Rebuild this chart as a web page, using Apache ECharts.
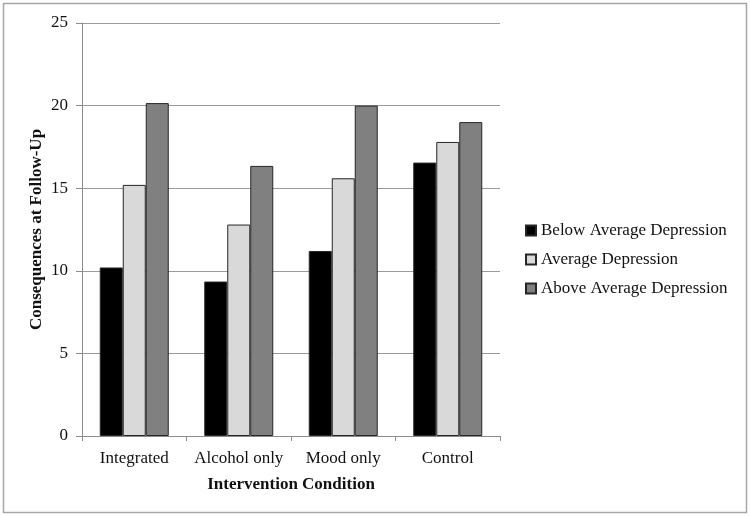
<!DOCTYPE html>
<html>
<head>
<meta charset="utf-8">
<script src="https://cdn.jsdelivr.net/npm/echarts@6/dist/echarts.min.js"></script>
<style>
  html, body { margin: 0; padding: 0; background: #fff; }
  #chart { width: 750px; height: 516px; }
</style>
</head>
<body>
<div id="chart"></div>
<script>
var categories = ['Integrated', 'Alcohol only', 'Mood only', 'Control'];
var belowAvg = [10.2, 9.35, 11.2, 16.55];
var avgDep = [15.2, 12.8, 15.6, 17.8];
var aboveAvg = [20.15, 16.35, 20.0, 19.0];
var yTicks = [0, 5, 10, 15, 20, 25];

var font = 'Liberation Serif';
var myChart = echarts.init(document.getElementById('chart'));

function barSeries(name, data, color) {
    return {
        name: name,
        type: 'bar',
        data: data,
        barWidth: 23,
        barGap: '0%',
        itemStyle: { color: color, borderColor: '#262626', borderWidth: 1 }
    };
}

var option = {
    backgroundColor: '#fff',
    animation: false,
    textStyle: { fontFamily: font },
    graphic: [{
        type: 'rect',
        shape: { x: 3.5, y: 3.5, width: 743, height: 509 },
        style: { fill: 'none', stroke: '#a6a6a6', lineWidth: 1.5 }
    }],
    grid: { left: 82, right: 250, top: 23, bottom: 80 },
    legend: {
        orient: 'vertical',
        left: 520,
        top: 217,
        itemWidth: 10,
        itemHeight: 10,
        itemGap: 12,
        icon: 'rect',
        textStyle: { fontFamily: font, fontSize: 17, color: '#111' },
        data: ['Below Average Depression', 'Average Depression', 'Above Average Depression']
    },
    xAxis: {
        type: 'category',
        data: categories,
        name: 'Intervention Condition',
        nameLocation: 'middle',
        nameGap: 40,
        nameTextStyle: { fontFamily: font, fontSize: 17, fontWeight: 'bold', color: '#111' },
        axisLine: { lineStyle: { color: '#8c8c8c' } },
        axisTick: { show: true, interval: 0, length: 5, lineStyle: { color: '#8c8c8c' } },
        axisLabel: { interval: 0, fontFamily: font, fontSize: 17, color: '#111', margin: 14 }
    },
    yAxis: {
        type: 'value',
        min: yTicks[0],
        max: yTicks[yTicks.length - 1],
        interval: 5,
        name: 'Consequences at Follow-Up',
        nameLocation: 'middle',
        nameGap: 37,
        nameMoveOverlap: false,
        nameTextStyle: { fontFamily: font, fontSize: 17, fontWeight: 'bold', color: '#111' },
        axisLine: { show: true, lineStyle: { color: '#8c8c8c' } },
        axisTick: { show: true, length: 6, lineStyle: { color: '#8c8c8c' } },
        axisLabel: { fontFamily: font, fontSize: 17, color: '#111', margin: 14 },
        splitLine: { lineStyle: { color: '#9a9a9a', width: 1 } }
    },
    series: [
        barSeries('Below Average Depression', belowAvg, '#000000'),
        barSeries('Average Depression', avgDep, '#d9d9d9'),
        barSeries('Above Average Depression', aboveAvg, '#808080')
    ]
};
myChart.setOption(option);
</script>
</body>
</html>
